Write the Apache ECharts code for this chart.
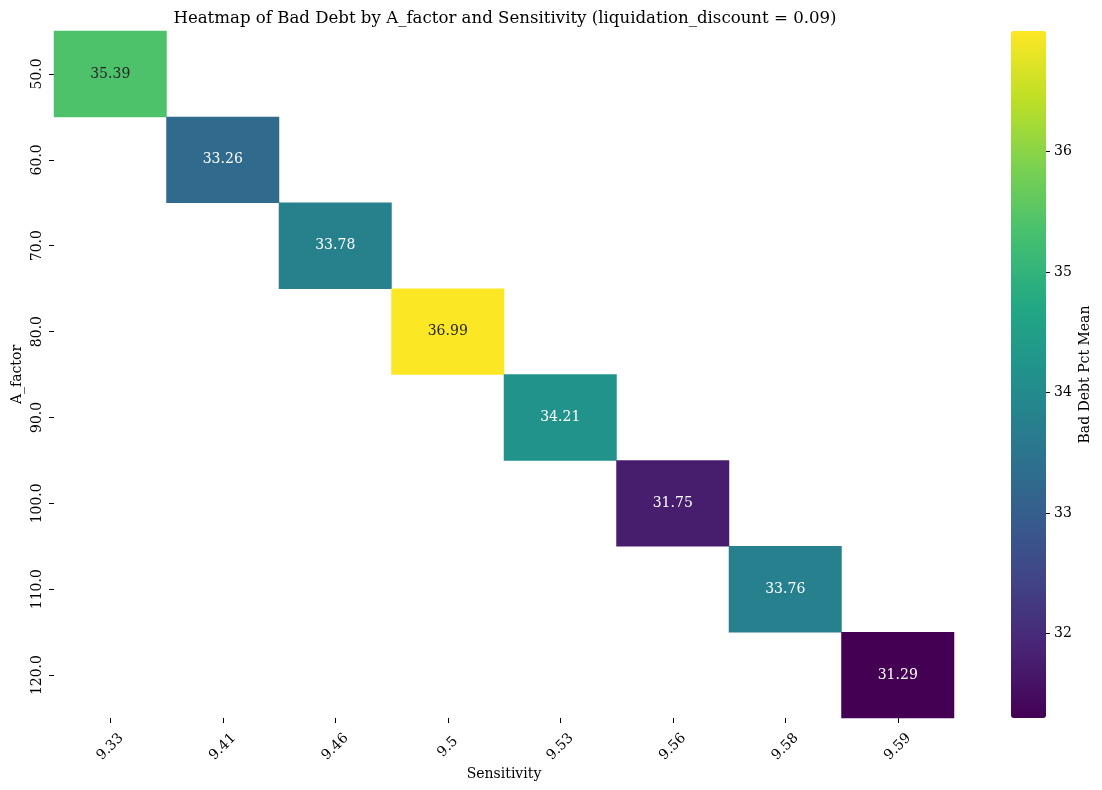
<!DOCTYPE html>
<html>
<head>
<meta charset="utf-8">
<script src="https://cdn.jsdelivr.net/npm/echarts@6/dist/echarts.min.js"></script>
<style>
  html, body { margin: 0; padding: 0; background: #fff; }
  #main { width: 1102px; height: 790px; }
</style>
</head>
<body>
<div id="main"></div>
<script>
// data
const sensitivity = ['9.33', '9.41', '9.46', '9.5', '9.53', '9.56', '9.58', '9.59'];
const aFactor = ['50.0', '60.0', '70.0', '80.0', '90.0', '100.0', '110.0', '120.0'];
const badDebt = [35.39, 33.26, 33.78, 36.99, 34.21, 31.75, 33.76, 31.29];
const colorbarTicks = [32, 33, 34, 35, 36];
// colour bar extent as it reads off the picture (unrounded data min / max)
const cbRange = [31.30, 37.00];

const viridis = ['#440154', '#482475', '#414487', '#355f8d', '#2a788e', '#21918c',
                 '#22a884', '#44bf70', '#7ad151', '#bddf26', '#fde725'];
const FONT = 'DejaVu Serif';

const vMin = cbRange[0];
const vMax = cbRange[1];

// one cell per (sensitivity, A_factor) pair on the diagonal
const cells = badDebt.map((v, i) => {
  const t = (v - vMin) / (vMax - vMin);
  return {
    value: [i, i, v],
    label: { color: t > 0.62 ? '#262626' : '#ffffff' }
  };
});

const chart = echarts.init(document.getElementById('main'));

chart.setOption({
  animation: false,
  backgroundColor: '#fff',
  title: {
    text: 'Heatmap of Bad Debt by A_factor and Sensitivity (liquidation_discount = 0.09)',
    left: 500,
    top: 5,
    textAlign: 'center',
    textStyle: { fontFamily: FONT, fontSize: 16.6, fontWeight: 'normal', color: '#000' }
  },
  grid: [
    { left: 54, top: 31, width: 900, height: 687, containLabel: false },
    { left: 1011, top: 31, width: 35, height: 687, containLabel: false }
  ],
  xAxis: [
    {
      type: 'category',
      gridIndex: 0,
      data: sensitivity,
      name: 'Sensitivity',
      nameLocation: 'middle',
      nameGap: 49,
      nameMoveOverlap: false,
      nameTextStyle: { fontFamily: FONT, fontSize: 14, color: '#000' },
      axisLine: { show: false },
      axisTick: { show: true, alignWithLabel: true, length: 5, lineStyle: { color: '#000' } },
      axisLabel: {
        rotate: 45, align: 'center', verticalAlign: 'middle', margin: 29,
        fontFamily: FONT, fontSize: 14, color: '#000', interval: 0
      },
      splitLine: { show: false },
      splitArea: { show: false }
    },
    {
      type: 'category',
      gridIndex: 1,
      data: ['cb'],
      show: false
    }
  ],
  yAxis: [
    {
      type: 'category',
      gridIndex: 0,
      data: aFactor,
      inverse: true,
      name: 'A_factor',
      nameLocation: 'middle',
      nameRotate: 90,
      nameGap: 30,
      nameMoveOverlap: false,
      nameTextStyle: { fontFamily: FONT, fontSize: 14, color: '#000' },
      axisLine: { show: false },
      axisTick: { show: true, alignWithLabel: true, length: 5, lineStyle: { color: '#000' } },
      axisLabel: {
        rotate: 90, align: 'center', verticalAlign: 'middle', margin: 17,
        fontFamily: FONT, fontSize: 14, color: '#000', interval: 0
      },
      splitLine: { show: false },
      splitArea: { show: false }
    },
    {
      type: 'value',
      gridIndex: 1,
      position: 'right',
      min: vMin,
      max: vMax,
      name: 'Bad Debt Pct Mean',
      nameLocation: 'middle',
      nameRotate: 90,
      nameGap: 32,
      nameTextStyle: { fontFamily: FONT, fontSize: 14, color: '#000' },
      axisLine: { show: false },
      axisTick: { show: true, length: 4, lineStyle: { color: '#000' }, customValues: colorbarTicks },
      axisLabel: {
        margin: 8, fontFamily: FONT, fontSize: 14, color: '#000',
        customValues: colorbarTicks
      },
      splitLine: { show: false }
    }
  ],
  visualMap: {
    type: 'continuous',
    min: vMin,
    max: vMax,
    dimension: 2,
    seriesIndex: 0,
    calculable: false,
    hoverLink: false,
    left: 1011,
    top: 31,
    padding: 0,
    itemWidth: 35,
    itemHeight: 687,
    text: null,
    showLabel: false,
    inRange: { color: viridis }
  },
  series: [
    {
      type: 'heatmap',
      xAxisIndex: 0,
      yAxisIndex: 0,
      data: cells,
      label: {
        show: true,
        fontFamily: FONT,
        fontSize: 14,
        formatter: p => p.value[2].toFixed(2)
      },
      emphasis: { disabled: true }
    }
  ]
});
</script>
</body>
</html>
